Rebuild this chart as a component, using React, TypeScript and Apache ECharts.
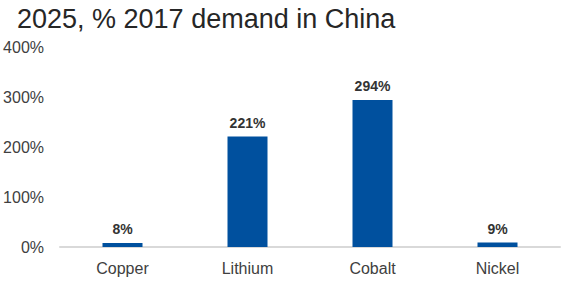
import React, { useEffect, useRef } from "react";
import * as echarts from "echarts";

const categories = ["Copper", "Lithium", "Cobalt", "Nickel"];
const values = [8, 221, 294, 9];
const titleText = "2025, % 2017 demand in China";

export default function App() {
  const ref = useRef<HTMLDivElement>(null);
  useEffect(() => {
    const chart = echarts.init(ref.current!, null, { renderer: "svg" });
    chart.setOption({
      animation: false,
      title: {
        text: titleText,
        left: 12,
        top: 0,
        textStyle: {
          fontFamily: "Liberation Sans, Arial, sans-serif",
          fontSize: 27,
          fontWeight: "normal",
          color: "#262626",
        },
      },
      grid: { left: 60, right: 3, top: 47, bottom: 35 },
      xAxis: {
        type: "category",
        data: categories,
        axisLine: { lineStyle: { color: "#d9d9d9", width: 2 } },
        axisTick: { show: false },
        axisLabel: {
          fontFamily: "Liberation Sans, Arial, sans-serif",
          fontSize: 16,
          color: "#404040",
          margin: 13,
        },
      },
      yAxis: {
        type: "value",
        min: 0,
        max: 400,
        interval: 100,
        splitLine: { show: false },
        axisLine: { show: false },
        axisTick: { show: false },
        axisLabel: {
          formatter: "{value}%",
          fontFamily: "Liberation Sans, Arial, sans-serif",
          fontSize: 16,
          color: "#404040",
          margin: 16,
        },
      },
      series: [
        {
          type: "bar",
          data: values,
          barWidth: 40,
          itemStyle: { color: "#00509E" },
          label: {
            show: true,
            position: "top",
            distance: 7,
            formatter: "{c}%",
            fontFamily: "Liberation Sans, Arial, sans-serif",
            fontSize: 14,
            fontWeight: "bold",
            color: "#333333",
          },
        },
      ],
    });
    return () => chart.dispose();
  }, []);
  return (
    <div
      ref={ref}
      style={{ position: "fixed", left: 0, top: 0, width: 563, height: 282, background: "#fff" }}
    />
  );
}
